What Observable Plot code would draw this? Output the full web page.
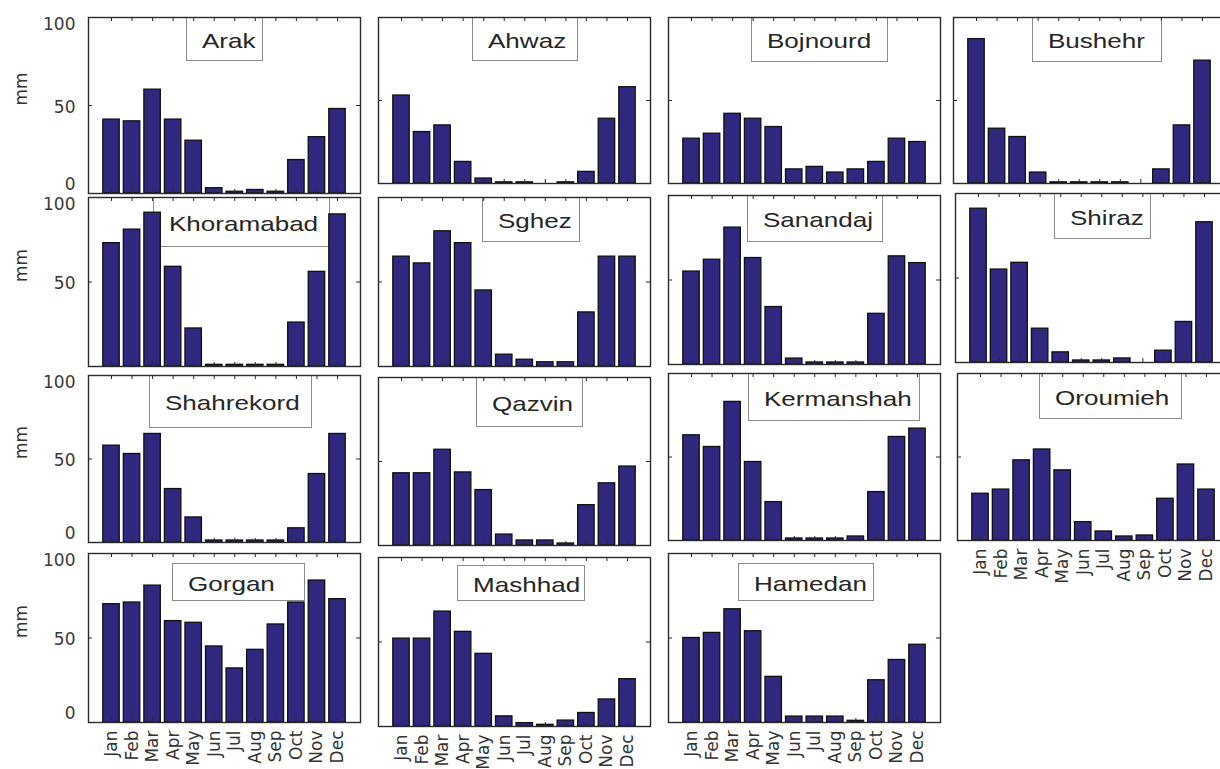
<!DOCTYPE html>
<html><head><meta charset="utf-8">
<script src="https://cdn.jsdelivr.net/npm/d3@7"></script>
<script src="https://cdn.jsdelivr.net/npm/@observablehq/plot@0.6"></script>
<style>
html,body{margin:0;padding:0;background:#fff;overflow:hidden;}
#fig{position:relative;width:1220px;height:769px;overflow:hidden;background:#fff;}
.lg{position:absolute;box-sizing:border-box;border:1.3px solid #8c8c8c;background:#fff;font-family:"Liberation Sans",Arial,sans-serif;font-size:21px;color:#262626;padding-left:15px;padding-top:3px;display:flex;align-items:center;white-space:nowrap;}
.lg span{display:inline-block;transform:scaleX(1.24);transform-origin:0 50%;}
</style></head><body><div id="fig"></div>
<script>
// ---- data ----
const months = ["Jan","Feb","Mar","Apr","May","Jun","Jul","Aug","Sep","Oct","Nov","Dec"];
const stations = ["Arak","Ahwaz","Bojnourd","Bushehr","Khoramabad","Sghez","Sanandaj","Shiraz","Shahrekord","Qazvin","Kermanshah","Oroumieh","Gorgan","Mashhad","Hamedan"];
const arak       = [42, 41, 59, 42, 30, 3, 1, 2, 1, 19, 32, 48];
const ahwaz      = [53, 31, 35, 13, 3, 0.7, 0.7, 0, 0.7, 7, 39, 58];
const bojnourd   = [27, 30, 42, 39, 34, 8.5, 10, 6.6, 8.5, 13, 27, 25];
const bushehr    = [87, 33, 28, 6.6, 0.7, 0.7, 0.7, 0.7, 0, 8.5, 35, 74];
const khoramabad = [73, 81, 91, 59, 22.5, 1, 1, 1, 1, 26, 56, 90];
const sghez      = [65, 61, 80, 73, 45, 7, 4, 2.5, 2.5, 32, 65, 65];
const sanandaj   = [55, 62, 81, 63, 34, 3.5, 1.2, 1.2, 1.2, 30, 64, 60];
const shiraz     = [91, 55, 59, 20, 6, 1.2, 1.2, 2.4, 0, 7, 24, 83];
const shahrekord = [58, 53, 65, 32, 15, 1.2, 1.2, 1.2, 1.2, 8.5, 41, 65];
const qazvin     = [43, 43, 57, 43.5, 33, 6.5, 3, 3, 1.2, 24, 37, 47];
const kermanshah = [63, 56, 83, 47, 23, 1.2, 1.2, 1.2, 2.4, 29, 62, 67];
const oroumieh   = [28, 30.5, 48, 54.5, 42, 11, 5.4, 2.4, 3, 25, 45.5, 30.5];
const gorgan     = [70, 71, 81, 60, 59, 45, 32, 43, 58, 71, 84, 73];
const mashhad    = [52, 52, 68, 56, 43, 6, 2, 1, 3.5, 8, 16, 28];
const hamedan    = [50, 53, 67, 54, 27, 3.5, 3.5, 3.5, 1, 25, 37, 46];
const yTicks     = [0, 50, 100];
const yTicksKhoramabad = [50, 100];
const yLabel = "mm";

// ---- layout (pixels) ----
const frames = [ // [left, top, right, bottom]
  [88,17,360,193],[378,17,650,183],[668,17,940,183],[953,17,1225,183],
  [88,197,360,366],[378,197,650,366],[668,195,940,364],[955,193,1227,362],
  [88,375,360,542],[378,377,650,545],[668,373,940,540],[957,373,1229,540],
  [88,553,360,722],[378,557,650,726],[668,553,940,722]
];
const boxes = [ // legend boxes [x1,y1,x2,y2]
  [186,17,263,61],[472,17,578,61],[751,17,888,62],[1032,17,1162,62],
  [153,197,330,247],[482,197,580,242],[747,195,883,242],[1054,193,1151,239],
  [149,375,312,428],[476,377,583,427],[748,373,920,421],[1039,373,1182,419],
  [172,563,305,601],[457,565,585,601],[738,563,874,601]
];

const values = [arak, ahwaz, bojnourd, bushehr, khoramabad, sghez, sanandaj, shiraz,
                shahrekord, qazvin, kermanshah, oroumieh, gorgan, mashhad, hamedan];
const barFill = "#30287e";
const ink = "#2b2b2b";
const fig = document.getElementById("fig");

stations.forEach((name, k) => {
  const [l, t, r, b] = frames[k];
  const W = r - l, H = b - t;
  const col = k % 4;
  const showY = col === 0;
  const showX = k >= 11;
  const ml = showY ? l : 3, mr = 3, mt = 3, mb = showX ? 52 : 3;
  const ticks = name === "Khoramabad" ? yTicksKhoramabad : yTicks;

  const [x1, y1, x2, y2] = boxes[k];
  const div = document.createElement("div");
  div.className = "lg";
  div.style.left = x1 + "px"; div.style.top = y1 + "px";
  div.style.width = (x2 - x1) + "px"; div.style.height = (y2 - y1) + "px";
  const span = document.createElement("span");
  span.textContent = name;
  div.appendChild(span);
  fig.appendChild(div);

  const rows = values[k].map((v, i) => ({m: months[i], i: i + 1, v}));
  const idx = rows.map(d => d.i);
  const tickText = (filter, dy) => Plot.text(ticks, {
    filter, y: d => d, text: d => String(d), frameAnchor: "left", textAnchor: "end",
    dx: -13, dy, fontSize: 17, fill: "#3a3a3a"
  });

  const svg = Plot.plot({
    width: ml + W + mr,
    height: mt + H + mb,
    marginLeft: ml, marginRight: mr, marginTop: mt, marginBottom: mb,
    style: {fontFamily: "DejaVu Sans, sans-serif", fontSize: "17px", color: "#333", background: "transparent", overflow: "visible"},
    x: {domain: [-0.12, 13.12], axis: null},
    y: {domain: [0, 100], axis: null},
    marks: [
      Plot.rectY(rows, {x1: d => d.i - 0.4, x2: d => d.i + 0.4, y: "v", fill: barFill, stroke: "#111", strokeWidth: 1.3}),
      Plot.tickX(idx, {x: d => d, insetBottom: H - 4, stroke: ink}),
      Plot.tickX(idx, {x: d => d, insetTop: H - 4, stroke: ink}),
      Plot.tickY([50], {y: d => d, insetRight: W - 4, stroke: ink}),
      Plot.tickY([50], {y: d => d, insetLeft: W - 4, stroke: ink}),
      Plot.frame({stroke: ink, strokeWidth: 1.4}),
      showY ? tickText(d => d === 100, 7) : null,
      showY ? tickText(d => d === 50, 2) : null,
      showY ? tickText(d => d === 0, -9) : null,
      showX ? Plot.text(rows, {x: "i", y: 0, text: "m", rotate: -90, textAnchor: "end", dy: 8, fontSize: 17, fill: "#333"}) : null,
      showY ? Plot.text([yLabel], {frameAnchor: "left", dx: -67, rotate: -90, fontSize: 17, fill: "#333"}) : null
    ]
  });
  svg.style.position = "absolute";
  svg.style.left = (l - ml) + "px";
  svg.style.top = (t - mt) + "px";
  svg.style.maxWidth = "none";
  fig.appendChild(svg);
});
</script></body></html>
